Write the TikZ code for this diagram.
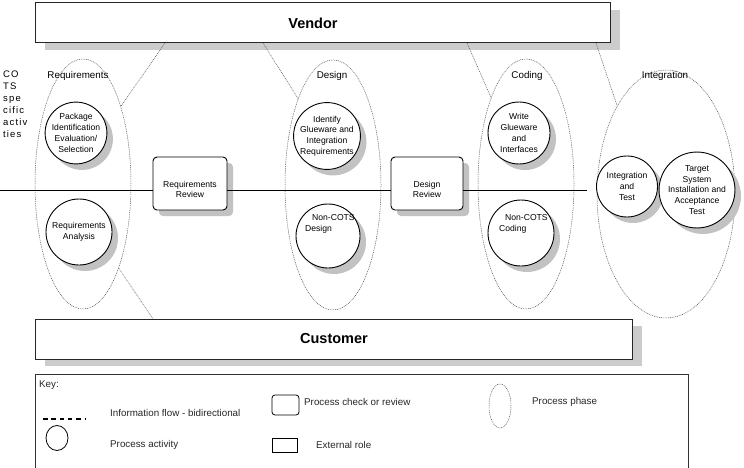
\documentclass[tikz,border=0pt]{standalone}
\usepackage{fontspec}
\setmainfont{Liberation Sans}
\newfontfamily\spacedfont[LetterSpace=12]{Liberation Sans}
\usetikzlibrary{shapes.geometric,shadows}
\begin{document}
\begin{tikzpicture}[x=1pt,y=-1pt,
  bigshad/.style={drop shadow={shadow xshift=10pt,shadow yshift=-7pt,fill=black!20,opacity=1}},
  shad/.style={drop shadow={shadow xshift=6pt,shadow yshift=-6pt,fill=black!24,opacity=1}},
  role/.style={draw=black!85,line width=1pt,fill=white,bigshad,minimum height=40pt,inner sep=0pt},
  rolelabel/.style={font=\bfseries\fontsize{14.5}{16}\selectfont},
  activity/.style={circle,draw,line width=0.9pt,fill=white,shad,inner sep=0pt,align=center,font=\fontsize{8.6}{10.8}\selectfont},
  smalltext/.style={align=center,font=\fontsize{8.6}{10.8}\selectfont,inner sep=0pt},
  review/.style={rounded corners=4pt,draw,line width=0.9pt,fill=white,shad,minimum height=53pt,inner sep=0pt},
  phase/.style={ellipse,draw=black!70,line width=0.5pt,dash pattern=on 0.9pt off 0.9pt,inner sep=0pt},
  phaselabel/.style={font=\fontsize{9.8}{11}\selectfont,inner sep=0pt},
  flow/.style={draw=black!70,line width=0.5pt,dash pattern=on 0.9pt off 0.9pt},
  keytext/.style={font=\fontsize{9.8}{11}\selectfont,anchor=west,inner sep=0pt,text=black!85}
]
\useasboundingbox (0,0) rectangle (744,468);

% phases
\node[phase,minimum width=96pt,minimum height=250pt] (req) at (83,184) {};
\node[phase,minimum width=96pt,minimum height=250pt] (des) at (333,185) {};
\node[phase,minimum width=96pt,minimum height=250pt] (cod) at (526,184) {};
\node[phase,minimum width=138pt,minimum height=248pt] (int) at (666,194) {};

\node[phaselabel] (reql) at (78,76) {Requirements};
\node[phaselabel] (desl) at (332,76) {Design};
\node[phaselabel] (codl) at (527,76) {Coding};
\node[phaselabel] (intl) at (665,76) {Integration};

% roles
\node[role,minimum width=575pt] (vendor) at (322.5,23) {};
\node[rolelabel] (vendortxt) at (313,23) {Vendor};
\node[role,minimum width=597pt] (customer) at (333.5,339) {};
\node[rolelabel] (customertxt) at (334,339) {Customer};

% COTS label
\node[anchor=north west,align=left,inner sep=0pt,font=\spacedfont\fontsize{9.5}{11.9}\selectfont] (cots) at (3,71)
  {CO\\TS\\spe\\cific\\activ\\ties};

% main line and reviews
\coordinate (lstart) at (0,190);
\coordinate (lend) at (587,190);
\node[review,minimum width=74pt] (rrev) at (190,183.5) {};
\node[smalltext] (rrevt) at (190,189.5) {Requirements\\Review};
\node[review,minimum width=72pt] (drev) at (427,183.5) {};
\node[smalltext] (drevt) at (427,189.5) {Design\\Review};
\draw[line width=0.9pt] (lstart) -- (lstart -| rrev.west);
\draw[line width=0.9pt] (lstart -| rrev.east) -- (lstart -| drev.west);
\draw[line width=0.9pt] (lstart -| drev.east) -- (lend);

% activities
\node[activity,minimum size=60pt] (pkg) at (76,133) {Package\\Identification\\Evaluation/\\Selection};
\node[activity,minimum size=66pt] (ana) at (79,232) {Requirements\\Analysis};
\node[activity,minimum size=63pt] (idg) at (327,136) {Identify\\Glueware and\\Integration\\Requirements};
\node[activity,minimum size=64pt] (nde) at (328,236) {};
\node[smalltext,anchor=west] (ndet1) at (312,218) {Non-COTS};
\node[smalltext,anchor=west] (ndet2) at (305,229) {Design};
\node[activity,minimum size=62pt] (wrt) at (519,133) {Write\\Glueware\\and\\Interfaces};
\node[activity,minimum size=66pt] (nco) at (521,233) {};
\node[smalltext,anchor=west] (ncot1) at (505,218) {Non-COTS};
\node[smalltext,anchor=west] (ncot2) at (499,229) {Coding};
\node[activity,minimum size=61pt] (itg) at (627,186.5) {Integration\\and\\Test};
\node[activity,minimum size=70pt] (tgt) at (697,190) {Target\\System\\Installation and\\Acceptance\\Test};

% information flows
\coordinate (v1) at (165,43);
\coordinate (v2) at (263,43);
\coordinate (v3) at (467,43);
\coordinate (v4) at (596,43);
\coordinate (c1) at (153,319);
\draw[flow] (v1) -- (req.64);
\draw[flow] (v2) -- (des.112);
\draw[flow] (v3) -- (cod.112);
\draw[flow] (v4) -- (int.119);
\draw[flow] (req.293) -- (c1);

% key
\node[draw=black!80,line width=0.9pt,minimum width=653pt,minimum height=98pt,inner sep=0pt] (key) at (361.5,423) {};
\node[keytext] (keyhead) at (39,385) {Key:};
\coordinate (kd1) at (43,419);
\coordinate (kd2) at (86,419);
\draw[line width=1.6pt,dash pattern=on 4.5pt off 3.8pt] (kd1) -- (kd2);
\node[keytext] (kflow) at (110,413) {Information flow - bidirectional};
\node[ellipse,draw,line width=0.8pt,minimum width=22pt,minimum height=25pt,inner sep=0pt] (kcirc) at (57,438) {};
\node[keytext] (kact) at (110,445) {Process activity};
\node[draw,line width=0.8pt,rounded corners=3pt,minimum width=27pt,minimum height=20pt,inner sep=0pt] (krev) at (285.5,405) {};
\node[keytext] (krevt) at (304,402) {Process check or review};
\node[draw,line width=0.8pt,minimum width=25pt,minimum height=14pt,inner sep=0pt] (krole) at (284.5,445) {};
\node[keytext] (krolet) at (316,445) {External role};
\node[phase,minimum width=22pt,minimum height=44pt] (kphase) at (500,406) {};
\node[keytext] (kphaset) at (532,402) {Process phase};
\end{tikzpicture}
\end{document}
